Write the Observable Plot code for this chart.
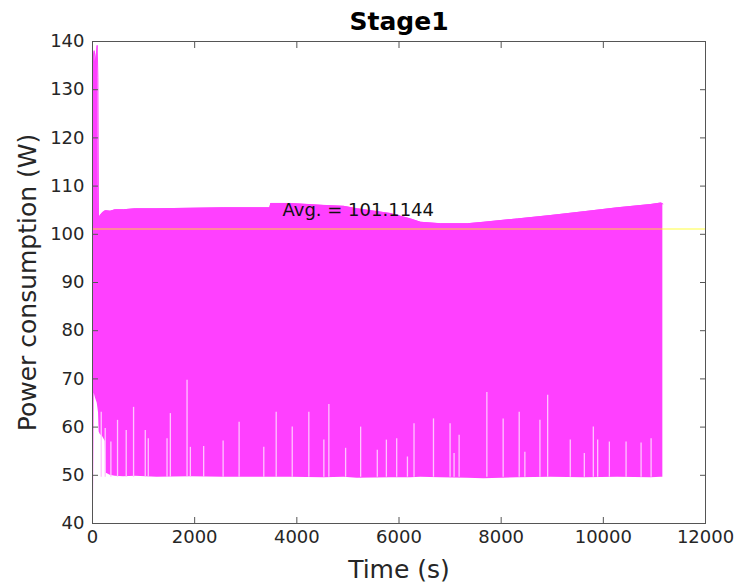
<!DOCTYPE html>
<html>
<head>
<meta charset="utf-8">
<script src="https://cdn.jsdelivr.net/npm/d3@7"></script>
<script src="https://cdn.jsdelivr.net/npm/@observablehq/plot@0.6"></script>
<style>
  html, body { margin: 0; padding: 0; background: #fff; }
</style>
</head>
<body>
<div id="chart"></div>
<script>
// ---- data ----
const titleText = "Stage1";
const xLabel = "Time (s)";
const yLabel = "Power consumption (W)";
const avgValue = 101.1144;
const avgLabel = "Avg. = 101.1144";
const avgLabelPos = [3720, 105];

const xTicks = [0, 2000, 4000, 6000, 8000, 10000, 12000];
const yTicks = [40, 50, 60, 70, 80, 90, 100, 110, 120, 130, 140];

// envelope of the rapidly oscillating power signal
const times = [0, 20, 33, 60, 92, 105, 118, 130, 150, 200, 250, 262, 347, 445, 608, 840, 1262, 1915, 2570, 3222, 3470, 3490, 3876, 4530, 4920, 5183, 5837, 6229, 6425, 6817, 7340, 7660, 8320, 8970, 9625, 10280, 10935, 11130, 11165];
const upper = [136, 137, 138.1, 135.7, 139.2, 132.6, 103.3, 103.5, 103.9, 104.5, 104.9, 104.9, 104.8, 105.1, 105.1, 105.3, 105.3, 105.4, 105.5, 105.5, 105.5, 106.4, 106.4, 106.0, 105.8, 105.3, 104.3, 103.2, 102.5, 102.2, 102.2, 102.5, 103.2, 103.9, 104.7, 105.5, 106.2, 106.5, 106.3];
const lower = [42, 45, 67, 66, 65, 64, 63, 59, 58.5, 58, 57, 50.5, 50, 49.8, 49.7, 49.8, 49.6, 49.7, 49.6, 49.6, 49.6, 49.6, 49.6, 49.5, 49.6, 49.4, 49.5, 49.5, 49.6, 49.5, 49.4, 49.3, 49.5, 49.6, 49.5, 49.6, 49.5, 49.6, 49.6];

// isolated high minima (light spikes rising from the lower edge)
const spikeBase = 49.6;
const spikeTimes = [171, 249, 360, 490, 660, 804, 1033, 1092, 1459, 1524, 1851, 1916, 2176, 2557, 2870, 3353, 3596, 3910, 4235, 4529, 4627, 4955, 5249, 5575, 5753, 5955, 6165, 6294, 6675, 7000, 7078, 7177, 7720, 8039, 8353, 8464, 8759, 8910, 9353, 9628, 9804, 9889, 10118, 10445, 10739, 10935];
const spikeTops = [63.1, 59.7, 56.9, 61.4, 59.3, 64.1, 59.3, 57.6, 57.6, 62.8, 69.7, 55.8, 56.0, 57.1, 61.0, 55.8, 63.1, 60.0, 63.1, 57.3, 64.7, 55.6, 60.0, 55.2, 57.3, 57.6, 53.8, 60.7, 61.7, 60.7, 54.5, 58.3, 67.2, 61.7, 63.1, 54.8, 61.4, 66.6, 57.3, 54.5, 60.0, 57.3, 56.9, 56.9, 56.7, 57.6];

// ---- tables built from the arrays ----
const band = times.map((t, i) => ({t, hi: upper[i], lo: lower[i]}));
const spikes = spikeTimes.map((t, i) => ({t, top: spikeTops[i], base: spikeBase}));

const axisColor = "#555";
const textColor = "#262626";

const chart = Plot.plot({
  width: 736,
  height: 585,
  marginLeft: 92,
  marginRight: 31,
  marginTop: 41,
  marginBottom: 62,
  style: {fontFamily: "DejaVu Sans", fontSize: "18px", color: textColor, background: "#fff"},
  x: {domain: [0, 12000]},
  y: {domain: [40, 140]},
  marks: [
    Plot.areaY(band, {x: "t", y1: "lo", y2: "hi", fill: "#ff40ff", curve: "linear"}),
    Plot.lineY(band, {x: "t", y: "hi", stroke: "#ff40ff", strokeWidth: 1}),
    Plot.ruleX(spikes, {x: "t", y1: "base", y2: "top", stroke: "#ffc4ff", strokeWidth: 1.3}),
    Plot.ruleY([avgValue], {stroke: "#ffff00", strokeOpacity: 0.5, strokeWidth: 1.6}),
    Plot.text([avgLabel], {x: avgLabelPos[0], y: avgLabelPos[1], text: d => d, textAnchor: "start", fill: "#111", fontSize: 18}),
    Plot.frame({stroke: axisColor, strokeWidth: 1}),
    Plot.axisX({anchor: "bottom", ticks: xTicks, tickSize: -6, tickPadding: 13, stroke: axisColor, fill: textColor, tickFormat: d => String(d), label: null, fontSize: 18}),
    Plot.axisX({anchor: "top", ticks: xTicks, tickSize: -6, stroke: axisColor, tickFormat: () => "", label: null}),
    Plot.axisY({anchor: "left", ticks: yTicks, tickSize: -6, tickPadding: 14, stroke: axisColor, fill: textColor, tickFormat: d => String(d), label: null, fontSize: 18}),
    Plot.axisY({anchor: "right", ticks: yTicks, tickSize: -6, stroke: axisColor, tickFormat: () => "", label: null}),
    Plot.text([titleText], {frameAnchor: "top", lineAnchor: "middle", textAnchor: "middle", dy: -20, text: d => d, fontWeight: "bold", fontSize: 25, fill: "#000"}),
    Plot.text([xLabel], {frameAnchor: "bottom", lineAnchor: "middle", textAnchor: "middle", dy: 46, text: d => d, fontSize: 25, fill: textColor}),
    Plot.text([yLabel], {frameAnchor: "left", lineAnchor: "middle", textAnchor: "middle", dx: -65, rotate: -90, text: d => d, fontSize: 25, fill: textColor})
  ]
});
document.getElementById("chart").appendChild(chart);
</script>
</body>
</html>
